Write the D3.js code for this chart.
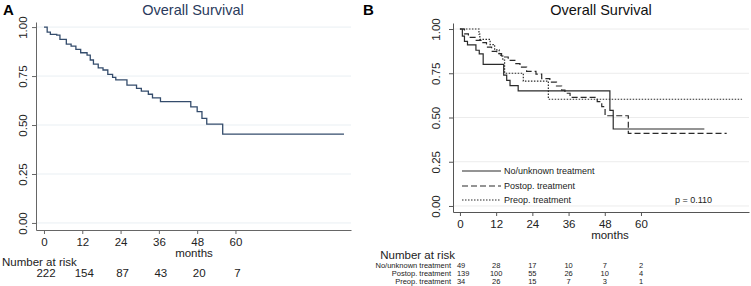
<!DOCTYPE html>
<html lang="en">
<head>
<meta charset="utf-8">
<script src="https://cdn.jsdelivr.net/npm/d3@7"></script>
<style>
  body { margin: 0; background: #fff; }
  svg { font-family: "Liberation Sans", Arial, sans-serif; }
</style>
</head>
<body>
<script>
// ticks shared by both panels
const monthTicks = [0, 12, 24, 36, 48, 60]
const survTicks = [0, 0.25, 0.5, 0.75, 1]

// panel A - all patients
const allTime = [0, 1, 2, 4, 5, 7, 8.5, 10, 11.5, 13.5, 14.5, 15.5, 17, 18.5, 20, 21.5, 22.5, 26, 29, 30.5, 32.7, 34, 36.5, 46, 48, 49.5, 51, 56, 94]
const allSurv = [1, 0.974, 0.963, 0.959, 0.937, 0.913, 0.903, 0.886, 0.869, 0.857, 0.832, 0.811, 0.792, 0.781, 0.759, 0.743, 0.73, 0.704, 0.687, 0.673, 0.657, 0.639, 0.619, 0.593, 0.568, 0.534, 0.505, 0.454, 0.454]
const riskAll = [222, 154, 87, 43, 20, 7]

// panel B - by treatment
const groupNames = ['No/unknown treatment', 'Postop. treatment', 'Preop. treatment']
const noTxTime = [0, 0.8, 1.5, 2.5, 5.3, 6.4, 7.7, 14.5, 15.5, 16.6, 19.3, 49.7, 50.8, 81]
const noTxSurv = [1, 0.96, 0.93, 0.91, 0.88, 0.86, 0.80, 0.74, 0.71, 0.68, 0.65, 0.54, 0.435, 0.435]
const postTime = [0, 1.5, 2.8, 5, 7.2, 8.8, 10.5, 12.2, 13.8, 16, 18.2, 19.9, 22.1, 25.2, 27.1, 29.8, 32, 33.7, 34.8, 36.5, 45.5, 47, 48.1, 55.8, 88.4]
const postSurv = [1, 0.973, 0.953, 0.936, 0.923, 0.898, 0.874, 0.861, 0.842, 0.823, 0.804, 0.785, 0.761, 0.745, 0.72, 0.70, 0.678, 0.655, 0.637, 0.614, 0.59, 0.561, 0.51, 0.41, 0.41]
const preTime = [0, 6.3, 6.6, 10, 11.5, 13, 14.2, 14.8, 21, 29.3, 93.5]
const preSurv = [1, 0.971, 0.941, 0.912, 0.882, 0.853, 0.824, 0.75, 0.706, 0.603, 0.603]
const riskNoTx = [49, 28, 17, 10, 7, 2]
const riskPost = [139, 100, 55, 26, 10, 4]
const riskPre = [34, 26, 15, 7, 3, 1]
const pText = 'p = 0.110'

const w = 751
const h = 286

let svg = d3.select('body').append('svg')
            .attr('width', w)
            .attr('height', h)

function toPoints(t, s) {
  return t.map(function(d, i) { return [d, s[i]] })
}

// draws axes + gridlines for one panel, returns the scales
function drawFrame(g, opt) {
  let x = d3.scaleLinear().domain(opt.xDomain).range([opt.left, opt.right])
  let y = d3.scaleLinear().domain(opt.yDomain).range([opt.bottom, opt.top])

  // gridlines
  g.selectAll('line.grid')
    .data(survTicks)
    .enter()
    .append('line')
    .attr('class', 'grid')
    .attr('x1', opt.left)
    .attr('x2', opt.right)
    .attr('y1', function(d) { return y(d) })
    .attr('y2', function(d) { return y(d) })
    .attr('stroke', opt.gridColor)
    .attr('stroke-width', 1)

  let xAxis = g.append('g')
    .attr('transform', 'translate(0,' + opt.bottom + ')')
    .call(d3.axisBottom(x).tickValues(monthTicks).tickSize(4).tickSizeOuter(0).tickFormat(d3.format('d')))
  xAxis.select('.domain').attr('stroke', opt.axisColor)
  xAxis.selectAll('.tick line').attr('stroke', opt.axisColor)
  xAxis.selectAll('.tick text')
    .attr('font-size', opt.tickFont)
    .attr('fill', '#222')
    .attr('dy', null)
    .attr('y', opt.xLabelY - opt.bottom)

  let yAxis = g.append('g')
    .attr('transform', 'translate(' + opt.left + ',0)')
    .call(d3.axisLeft(y).tickValues(survTicks).tickSize(4).tickSizeOuter(0).tickFormat(d3.format('.2f')))
  yAxis.select('.domain').attr('stroke', opt.axisColor)
  yAxis.selectAll('.tick line').attr('stroke', opt.axisColor)
  yAxis.selectAll('.tick text')
    .attr('font-size', opt.tickFont)
    .attr('fill', '#222')
    .attr('x', null)
    .attr('dy', null)
    .attr('text-anchor', 'middle')
    .attr('transform', 'translate(' + (opt.yLabelX - opt.left) + ',0) rotate(-90)')

  g.append('text')
    .text('months')
    .attr('x', opt.monthsX)
    .attr('y', opt.monthsY)
    .attr('text-anchor', 'middle')
    .attr('font-size', opt.tickFont)
    .attr('fill', '#222')

  return { x: x, y: y }
}

let stepLine = function(x, y) {
  return d3.line()
    .x(function(d) { return x(d[0]) })
    .y(function(d) { return y(d[1]) })
    .curve(d3.curveStepAfter)
}

// ---------- Panel A ----------
let gA = svg.append('g')
let sA = drawFrame(gA, {
  xDomain: [-2.5, 96.2], yDomain: [-0.036, 1.026],
  left: 36, right: 351, top: 22, bottom: 230,
  gridColor: '#e9eff3', axisColor: '#666',
  tickFont: 11.5, xLabelY: 246, yLabelX: 27,
  monthsX: 194, monthsY: 257
})

gA.append('path')
  .datum(toPoints(allTime, allSurv))
  .attr('d', stepLine(sA.x, sA.y))
  .attr('fill', 'none')
  .attr('stroke', '#344c6c')
  .attr('stroke-width', 1.3)

gA.append('text').text('A')
  .attr('x', 3).attr('y', 15)
  .attr('font-size', 15).attr('font-weight', 'bold')

gA.append('text').text('Overall Survival')
  .attr('x', 193).attr('y', 15)
  .attr('text-anchor', 'middle')
  .attr('font-size', 14.5)
  .attr('fill', '#2a3b5c')

gA.append('text').text('Number at risk')
  .attr('x', 2).attr('y', 266)
  .attr('font-size', 11.5).attr('fill', '#222')

gA.selectAll('text.riskA')
  .data(riskAll)
  .enter()
  .append('text')
  .attr('class', 'riskA')
  .text(function(d) { return d })
  .attr('x', function(d, i) { return sA.x(monthTicks[i]) + 2 })
  .attr('y', 277)
  .attr('text-anchor', 'middle')
  .attr('font-size', 11.5)
  .attr('fill', '#222')

// ---------- Panel B ----------
let gB = svg.append('g')
let sB = drawFrame(gB, {
  xDomain: [-2.3, 95.8], yDomain: [-0.034, 1.034],
  left: 453, right: 749, top: 23, bottom: 212,
  gridColor: '#ececec', axisColor: '#555',
  tickFont: 11.5, xLabelY: 228, yLabelX: 440,
  monthsX: 610, monthsY: 239
})

const groupData = [toPoints(noTxTime, noTxSurv), toPoints(postTime, postSurv), toPoints(preTime, preSurv)]
const dashes = [null, '6,3', '1.5,1.5']

gB.selectAll('path.km')
  .data(groupData)
  .enter()
  .append('path')
  .attr('class', 'km')
  .attr('d', stepLine(sB.x, sB.y))
  .attr('fill', 'none')
  .attr('stroke', '#2a2a2a')
  .attr('stroke-width', 1.2)
  .attr('stroke-dasharray', function(d, i) { return dashes[i] })

gB.append('text').text('B')
  .attr('x', 363).attr('y', 15)
  .attr('font-size', 15).attr('font-weight', 'bold')

gB.append('text').text('Overall Survival')
  .attr('x', 601).attr('y', 15)
  .attr('text-anchor', 'middle')
  .attr('font-size', 14.5)
  .attr('fill', '#111')

// legend
let legRows = [171, 186, 200]
gB.selectAll('line.leg')
  .data(groupNames)
  .enter()
  .append('line')
  .attr('class', 'leg')
  .attr('x1', 462).attr('x2', 501)
  .attr('y1', function(d, i) { return legRows[i] })
  .attr('y2', function(d, i) { return legRows[i] })
  .attr('stroke', '#2a2a2a')
  .attr('stroke-width', 1.2)
  .attr('stroke-dasharray', function(d, i) { return dashes[i] })

gB.selectAll('text.leg')
  .data(groupNames)
  .enter()
  .append('text')
  .attr('class', 'leg')
  .text(function(d) { return d })
  .attr('x', 504)
  .attr('y', function(d, i) { return legRows[i] + 3 })
  .attr('font-size', 9)
  .attr('fill', '#222')

gB.append('text').text(pText)
  .attr('x', 675).attr('y', 203)
  .attr('font-size', 9).attr('fill', '#222')

// risk table
gB.append('text').text('Number at risk')
  .attr('x', 455).attr('y', 259)
  .attr('text-anchor', 'end')
  .attr('font-size', 11.5).attr('fill', '#222')

const riskRows = [riskNoTx, riskPost, riskPre]
const riskY = [268, 276.2, 284.2]
riskRows.forEach(function(row, r) {
  gB.append('text').text(groupNames[r])
    .attr('x', 451).attr('y', riskY[r])
    .attr('text-anchor', 'end')
    .attr('font-size', 7.5).attr('fill', '#222')

  gB.selectAll('text.risk' + r)
    .data(row)
    .enter()
    .append('text')
    .attr('class', 'risk' + r)
    .text(function(d) { return d })
    .attr('x', function(d, i) { return i === 0 ? sB.x(monthTicks[i]) - 3 : sB.x(monthTicks[i]) })
    .attr('y', riskY[r])
    .attr('text-anchor', function(d, i) { return i === 0 ? 'start' : 'middle' })
    .attr('font-size', 7.5)
    .attr('fill', '#222')
})
</script>
</body>
</html>
